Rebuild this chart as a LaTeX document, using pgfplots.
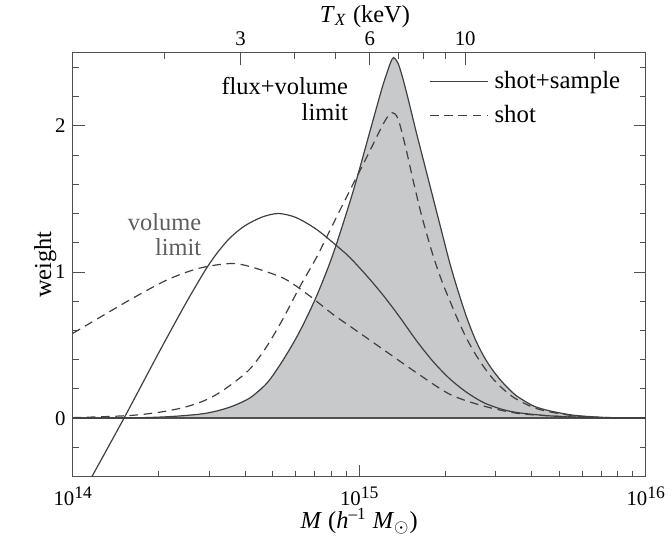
\documentclass[border=0pt]{standalone}
\usepackage{fontspec}
\setmainfont{Liberation Serif}
\usepackage{pgfplots}
\pgfplotsset{compat=1.18}
\usepackage{pgfplotstable}
\definecolor{curve}{HTML}{404040}
\definecolor{fillg}{HTML}{C8C9CB}
\definecolor{axisg}{HTML}{505050}
\definecolor{labg}{HTML}{5E5E5E}
\newcommand{\tsup}[1]{\raisebox{3.4pt}{\fontsize{8.8}{10}\selectfont #1}}

% flux+volume limit, shot+sample (solid, filled)
\pgfplotstableread{
x y
14.00 0.000
14.20 0.002
14.33 0.010
14.44 0.027
14.50 0.048
14.56 0.084
14.62 0.141
14.68 0.245
14.735 0.40
14.79 0.585
14.85 0.83
14.91 1.13
14.98 1.56
15.04 1.98
15.08 2.26
15.10 2.38
15.11 2.435
15.12 2.467
15.135 2.43
15.15 2.34
15.17 2.19
15.20 1.95
15.23 1.72
15.26 1.49
15.29 1.26
15.317 1.055
15.345 0.87
15.375 0.69
15.405 0.54
15.433 0.43
15.46 0.345
15.491 0.266
15.52 0.205
15.55 0.152
15.608 0.084
15.666 0.050
15.75 0.020
15.85 0.006
15.95 0.002
16.00 0.001
}\fluxsolid

% flux+volume limit, shot (dashed)
\pgfplotstableread{
x y
14.00 0.004
14.10 0.010
14.21 0.020
14.30 0.040
14.38 0.070
14.444 0.108
14.50 0.160
14.56 0.240
14.62 0.340
14.677 0.490
14.734 0.680
14.793 0.900
14.851 1.100
14.91 1.333
14.968 1.56
15.03 1.80
15.07 1.96
15.095 2.05
15.115 2.09
15.135 2.05
15.16 1.87
15.189 1.62
15.22 1.37
15.259 1.105
15.29 0.93
15.317 0.80
15.345 0.67
15.375 0.545
15.405 0.44
15.433 0.356
15.46 0.285
15.491 0.220
15.52 0.170
15.55 0.129
15.608 0.073
15.666 0.043
15.75 0.017
15.85 0.005
16.00 0.001
}\fluxdash

% volume limit, shot+sample (solid)
\pgfplotstableread{
x y
14.05 -0.46
14.095 -0.30
14.179 0.00
14.24 0.225
14.305 0.465
14.386 0.755
14.43 0.905
14.47 1.035
14.51 1.145
14.55 1.235
14.60 1.315
14.66 1.375
14.718 1.40
14.78 1.372
14.852 1.290
14.927 1.170
14.968 1.098
15.026 0.975
15.084 0.840
15.142 0.690
15.20 0.530
15.259 0.385
15.317 0.268
15.375 0.177
15.433 0.108
15.49 0.066
15.55 0.039
15.666 0.016
15.80 0.004
16.00 0.000
}\volsolid

% volume limit, shot (dashed)
\pgfplotstableread{
x y
14.00 0.58
14.095 0.69
14.20 0.81
14.328 0.945
14.44 1.025
14.549 1.058
14.619 1.037
14.735 0.958
14.822 0.844
14.91 0.708
14.968 0.629
15.084 0.470
15.20 0.311
15.317 0.163
15.433 0.084
15.55 0.034
15.666 0.016
15.80 0.005
16.00 0.000
}\voldash

\begin{document}
\begin{tikzpicture}
\useasboundingbox (-36.35pt,-29.15pt) rectangle (299.65pt,238.35pt);
\begin{axis}[
  at={(0pt,0pt)}, anchor=south west,
  scale only axis, width=286.5pt, height=212pt,
  xmin=14, xmax=16, ymin=-0.4, ymax=2.5,
  xtick={14,15,16},
  xticklabels={10\tsup{14},10\tsup{15},10\tsup{16}},
  minor xtick={14.30103,14.47712,14.60206,14.69897,14.77815,14.84510,14.90309,14.95424,
               15.30103,15.47712,15.60206,15.69897,15.77815,15.84510,15.90309,15.95424},
  ytick={0,1,2},
  minor ytick={-0.2,0.2,0.4,0.6,0.8,1.2,1.4,1.6,1.8,2.2,2.4},
  xtick pos=left, ytick pos=both,
  tick align=inside, major tick length=6pt, minor tick length=3pt,
  every tick/.style={axisg, line width=0.5pt},
  axis line style={axisg, line width=0.7pt},
  /pgf/number format/assume math mode=true,
  ticklabel style={font=\fontsize{10.4}{12}\selectfont},
  label style={font=\fontsize{12.2}{14}\selectfont},
  xticklabel style={anchor=base, yshift=-14.2pt},
  xlabel={\textit{M} (\textit{h}\textsuperscript{–1} \textit{M}$_\odot$)},
  xlabel style={at={(axis description cs:0.5,0)}, anchor=base, yshift=-25.9pt},
  ylabel={weight},
  ylabel style={at={(axis description cs:-0.048,0.5)}, anchor=center},
  legend style={draw=none, fill=none, at={(axis description cs:0.6218,0.892)}, anchor=west,
    inner sep=0pt, row sep=3pt, font=\fontsize{12.4}{14}\selectfont,
    nodes={inner xsep=3pt}},
  legend cell align=left,
  legend image code/.code={\draw[#1] (0pt,0pt) -- (29pt,0pt);},
]
\addplot[fill=fillg, draw=none, forget plot] table {\fluxsolid} \closedcycle;
\addplot[axisg, line width=0.9pt, forget plot] coordinates {(14,0) (16,0)};
\addplot[curve, line width=0.6pt, smooth, forget plot] table {\fluxsolid};
\addplot[curve, line width=0.6pt, dash pattern=on 4.3pt off 2.8pt, smooth, forget plot] table {\fluxdash};
\addplot[curve, line width=0.6pt, smooth, forget plot] table {\volsolid};
\addplot[curve, line width=0.6pt, dash pattern=on 4.3pt off 2.8pt, smooth, forget plot] table {\voldash};
\addlegendimage{curve, line width=0.6pt}
\addlegendentry{shot+sample}
\addlegendimage{curve, line width=0.6pt, dash pattern=on 4.3pt off 2.8pt}
\addlegendentry{shot}
\node[anchor=base east, font=\fontsize{12.2}{14}\selectfont] at (axis cs:14.985,2.213) {flux+volume};
\node[anchor=base east, font=\fontsize{12.2}{14}\selectfont] at (axis cs:14.985,2.036) {limit};
\node[anchor=base east, text=labg, font=\fontsize{12.2}{14}\selectfont] at (axis cs:14.473,1.287) {volume};
\node[anchor=base east, text=labg, font=\fontsize{12.2}{14}\selectfont] at (axis cs:14.473,1.110) {limit};
\end{axis}
\begin{axis}[
  at={(0pt,0pt)}, anchor=south west,
  scale only axis, width=286.5pt, height=212pt,
  xmin=14, xmax=16, ymin=0, ymax=1,
  axis x line*=top, axis y line=none,
  xtick={14.5857,15.0372,15.37},
  xticklabels={3,6,10},
  minor xtick={14.3215,14.773,14.9184,15.1376,15.2246,15.3013,15.8215},
  tick align=inside, major tick length=6pt, minor tick length=3pt,
  every tick/.style={axisg, line width=0.5pt},
  axis line style={axisg, line width=0.7pt},
  ticklabel style={font=\fontsize{10.4}{12}\selectfont},
  label style={font=\fontsize{12.2}{14}\selectfont},
  xticklabel style={anchor=base, yshift=3.5pt},
  xlabel={\textit{T}\textsubscript{\textit{X}} (keV)},
  xlabel style={at={(axis description cs:0.51,1)}, anchor=base, yshift=15.3pt},
]
\end{axis}
\end{tikzpicture}
\end{document}
